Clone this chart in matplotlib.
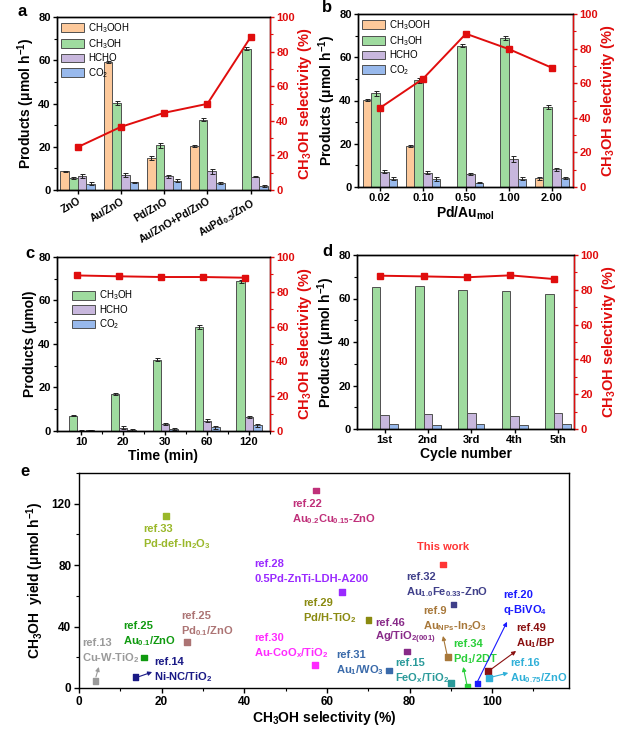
import numpy as np
import matplotlib
matplotlib.use('Agg')
import matplotlib.pyplot as plt
from matplotlib.ticker import MultipleLocator

plt.rcParams['font.family'] = ['Liberation Sans', 'DejaVu Sans']
plt.rcParams['font.weight'] = 'bold'
plt.rcParams['mathtext.default'] = 'regular'
plt.rcParams['axes.linewidth'] = 1.0

# ---- panel a : catalysts
a_labels = ['ZnO', 'Au/ZnO', 'Pd/ZnO', 'Au/ZnO+Pd/ZnO', 'AuPd$_{0.5}$/ZnO']
a_ch3ooh = [8.6, 59.1, 14.7, 20.2, 0]
a_ch3ooh_err = [0.4, 0.4, 0.8, 0.4, 0]
a_ch3oh = [5.7, 40.1, 20.7, 32.6, 65.4]
a_ch3oh_err = [0.4, 1.0, 1.2, 0.9, 0.6]
a_hcho = [6.5, 6.8, 6.4, 8.6, 6.2]
a_hcho_err = [0.8, 1.0, 0.7, 1.0, 0.4]
a_co2 = [2.9, 3.6, 4.3, 3.4, 1.9]
a_co2_err = [0.8, 0.3, 0.8, 0.5, 0.3]
a_sel = [24.8, 36.5, 44.6, 49.8, 88.3]

# ---- panel b : Pd/Au ratio
b_labels = ['0.02', '0.10', '0.50', '1.00', '2.00']
b_ch3ooh = [40.1, 18.8, 0, 0, 4.0]
b_ch3ooh_err = [0.4, 0.5, 0, 0, 0.6]
b_ch3oh = [43.3, 49.4, 65.3, 68.9, 37.1]
b_ch3oh_err = [1.3, 1.2, 0.6, 0.7, 1.0]
b_hcho = [7.0, 6.7, 6.2, 13.0, 8.2]
b_hcho_err = [0.7, 0.6, 0.5, 1.3, 0.7]
b_co2 = [3.9, 3.6, 1.9, 3.9, 4.0]
b_co2_err = [0.8, 0.8, 0.2, 0.8, 0.4]
b_sel = [45.7, 62.5, 88.6, 79.7, 68.9]

# ---- panel c : time
c_labels = ['10', '20', '30', '60', '120']
c_ch3oh = [7.1, 17.1, 32.7, 47.8, 68.8]
c_ch3oh_err = [0.4, 0.6, 0.7, 0.8, 0.7]
c_hcho = [0.2, 1.5, 3.1, 4.8, 6.3]
c_hcho_err = [0.2, 0.6, 0.4, 0.8, 0.4]
c_co2 = [0.3, 0.6, 1.0, 1.7, 2.6]
c_co2_err = [0.2, 0.5, 0.6, 0.7, 0.6]
c_sel = [89.4, 88.9, 88.5, 88.5, 88.1]

# ---- panel d : cycles
d_labels = ['1st', '2nd', '3rd', '4th', '5th']
d_ch3oh = [65.2, 65.6, 63.9, 63.3, 62.2]
d_hcho = [6.3, 6.7, 7.2, 6.1, 7.2]
d_co2 = [2.4, 1.9, 2.4, 1.9, 2.4]
d_sel = [88.1, 87.7, 87.2, 88.3, 86.2]

# ---- panel e : literature comparison
e_ref = ['ref.13', 'ref.25', 'ref.14', 'ref.33', 'ref.25', 'ref.22', 'ref.28', 'ref.29',
         'ref.30', 'ref.31', 'ref.46', 'ref.15', 'ref.32', 'ref.9', 'This work', 'ref.34',
         'ref.20', 'ref.49', 'ref.16']
e_cat = ['Cu-W-TiO$_2$', 'Au$_{0.1}$/ZnO', 'Ni-NC/TiO$_2$', 'Pd-def-In$_2$O$_3$', 'Pd$_{0.1}$/ZnO',
         'Au$_{0.2}$Cu$_{0.15}$-ZnO', '0.5Pd-ZnTi-LDH-A200', 'Pd/H-TiO$_2$', 'Au-CoO$_x$/TiO$_2$',
         'Au$_1$/WO$_3$', 'Ag/TiO$_{2(001)}$', 'FeO$_x$/TiO$_2$', 'Au$_{1.0}$Fe$_{0.33}$-ZnO',
         'Au$_{NPs}$-In$_2$O$_3$', '', 'Pd$_1$/2DT', 'q-BiVO$_4$', 'Au$_1$/BP', 'Au$_{0.75}$/ZnO']
e_sel = [4.0, 15.7, 13.7, 21.1, 26.2, 57.3, 63.7, 70.1, 57.1, 75.0, 79.4, 90.1, 90.6, 89.3,
         88.1, 94.0, 96.5, 99.0, 99.2]
e_yield = [4.6, 20.0, 7.0, 112.0, 30.0, 128.5, 62.6, 44.4, 14.8, 11.3, 23.7, 3.3, 54.4, 20.2,
           80.3, 0.9, 3.0, 10.9, 6.5]
e_colors = ['#9a9a9a', '#109a10', '#1a1a86', '#9ab82a', '#ac7474', '#c0307a', '#9a2aff',
            '#8a8a10', '#ff2aff', '#3a6aaa', '#882a88', '#2a9a9a', '#40408a', '#a8783a',
            '#ff3535', '#2acf3a', '#1a1aff', '#8a1010', '#30b0d8']

red = '#e00d0d'
col_ooh = '#fdc99b'
col_oh = '#9fdb9f'
col_hcho = '#c8b7dd'
col_co2 = '#98b9ec'
names = ['CH$_3$OOH', 'CH$_3$OH', 'HCHO', 'CO$_2$']

W, H = 618, 734
fig = plt.figure(figsize=(W / 100, H / 100), dpi=100)


def box(x0, y0, x1, y1):
    return [x0 / W, 1 - y1 / H, (x1 - x0) / W, (y1 - y0) / H]


def bar_panel(ax, labels, series, errs, cols, labs, sel, xlim, sel_shift, ylabel):
    x = np.arange(len(labels))
    n = len(series)
    w = 0.2
    for k in range(n):
        off = (k - (n - 1) / 2) * w
        kw = dict(color=cols[k], edgecolor='#505050', linewidth=0.7, label=labs[k], zorder=2)
        if errs is not None:
            kw.update(yerr=errs[k], capsize=1.8,
                      error_kw=dict(elinewidth=0.7, capthick=0.7, ecolor='#222222'))
        ax.bar(x + off, series[k], w, **kw)
    ax.set_xlim(xlim)
    ax.set_ylim(0, 80)
    ax.set_xticks(x)
    ax.yaxis.set_major_locator(MultipleLocator(20))
    ax.yaxis.set_minor_locator(MultipleLocator(10))
    ax.tick_params(axis='both', which='major', direction='out', length=3, width=1,
                   labelsize=8, pad=1.5)
    ax.tick_params(axis='y', which='minor', direction='out', length=2, width=0.8)
    ax.tick_params(axis='x', which='minor', bottom=False)
    ax.set_ylabel(ylabel, fontsize=10, fontweight='bold', labelpad=1)
    ax2 = ax.twinx()
    ax2.plot(x + sel_shift, sel, color=red, marker='s', ms=4, lw=1.4, zorder=3)
    ax2.set_ylim(0, 100)
    ax2.yaxis.set_major_locator(MultipleLocator(20))
    ax2.yaxis.set_minor_locator(MultipleLocator(10))
    ax2.tick_params(axis='y', which='major', direction='out', length=3, width=1,
                    colors=red, labelsize=8, pad=1.5)
    ax2.tick_params(axis='y', which='minor', direction='out', length=2, width=0.8, colors=red)
    ax2.spines['right'].set_color(red)
    ax2.set_ylabel('CH$_3$OH selectivity (%)', color=red, fontsize=10.5, fontweight='bold',
                   labelpad=1)
    return ax2


leg_kw = dict(frameon=False, prop={'size': 7, 'weight': 'normal'}, handlelength=2.4,
              handleheight=1.0, labelspacing=0.25, handletextpad=0.4, borderpad=0.2)

# a
ax_a = fig.add_axes(box(57, 17, 270, 190))
bar_panel(ax_a, a_labels, [a_ch3ooh, a_ch3oh, a_hcho, a_co2],
          [a_ch3ooh_err, a_ch3oh_err, a_hcho_err, a_co2_err],
          [col_ooh, col_oh, col_hcho, col_co2], names, a_sel, (-0.48, 4.45), 0,
          'Products (μmol h$^{-1}$)')
ax_a.set_xticklabels(a_labels, rotation=30, ha='right', rotation_mode='anchor', fontsize=7.5)
ax_a.legend(loc='upper left', borderaxespad=0.2, **leg_kw)

# b
ax_b = fig.add_axes(box(358, 14, 573, 187))
bar_panel(ax_b, b_labels, [b_ch3ooh, b_ch3oh, b_hcho, b_co2],
          [b_ch3ooh_err, b_ch3oh_err, b_hcho_err, b_co2_err],
          [col_ooh, col_oh, col_hcho, col_co2], names, b_sel, (-0.51, 4.49), 0,
          'Products (μmol h$^{-1}$)')
ax_b.set_xticklabels(b_labels)
ax_b.set_xlabel('Pd/Au$_{mol}$', fontsize=10, fontweight='bold', labelpad=1)
ax_b.legend(loc='upper left', borderaxespad=0.2, **leg_kw)

# c
ax_c = fig.add_axes(box(57, 257, 270, 431))
bar_panel(ax_c, c_labels, [c_ch3oh, c_hcho, c_co2], [c_ch3oh_err, c_hcho_err, c_co2_err],
          [col_oh, col_hcho, col_co2], names[1:], c_sel, (-0.58, 4.35), -0.1,
          'Products (μmol)')
ax_c.set_xticklabels(c_labels)
ax_c.set_xticks(np.arange(5) + 0.5, minor=True)
ax_c.tick_params(axis='x', which='minor', bottom=True, direction='out', length=2, width=0.8)
ax_c.set_xlabel('Time (min)', fontsize=10, fontweight='bold', labelpad=1)
ax_c.legend(loc='upper left', bbox_to_anchor=(0.06, 0.83), borderaxespad=0, **leg_kw)

# d
ax_d = fig.add_axes(box(357, 255, 574, 429))
bar_panel(ax_d, d_labels, [d_ch3oh, d_hcho, d_co2], None,
          [col_oh, col_hcho, col_co2], names[1:], d_sel, (-0.64, 4.37), -0.1,
          'Products (μmol h$^{-1}$)')
ax_d.set_xticklabels(d_labels)
ax_d.set_xlabel('Cycle number', fontsize=10, fontweight='bold', labelpad=1)

# e
ax_e = fig.add_axes(box(79, 473, 569, 688))
ax_e.scatter(e_sel, e_yield, c=e_colors, marker='s', s=16, zorder=3)
ax_e.set_xlim(0, 118.6)
ax_e.set_ylim(0, 140)
ax_e.xaxis.set_major_locator(MultipleLocator(20))
ax_e.xaxis.set_minor_locator(MultipleLocator(10))
ax_e.yaxis.set_major_locator(MultipleLocator(40))
ax_e.yaxis.set_minor_locator(MultipleLocator(20))
ax_e.tick_params(which='major', direction='out', length=3.5, width=1, labelsize=8.5, pad=2)
ax_e.tick_params(which='minor', direction='out', length=2, width=0.8)
ax_e.set_xlabel('CH$_3$OH selectivity (%)', fontsize=10, fontweight='bold', labelpad=1)
ax_e.set_ylabel('CH$_3$OH  yield (μmol h$^{-1}$)', fontsize=10, fontweight='bold', labelpad=4)

# label anchor (left, first line) for each point, in data units
lab_pos = [(0.7, 29.4), (10.7, 40.5), (18.2, 17.0), (15.5, 103.8), (24.7, 47.0),
           (51.6, 120.1), (42.4, 80.9), (54.2, 55.5), (42.4, 32.6), (62.2, 21.5),
           (71.7, 42.4), (76.5, 16.3), (79.2, 72.4), (83.3, 50.2), (81.8, 92.0),
           (90.6, 28.7), (102.7, 60.7), (105.8, 39.2), (104.4, 16.3)]
for i in range(len(e_ref)):
    lx, ly = lab_pos[i]
    ax_e.text(lx, ly, e_ref[i], color=e_colors[i], fontsize=8, fontweight='bold',
              ha='left', va='center')
    if e_cat[i]:
        ax_e.text(lx, ly - 9.8, e_cat[i], color=e_colors[i], fontsize=8, fontweight='bold',
                  ha='left', va='center')

# arrows: (point index, tail, head)
arrows = [(0, (4.1, 7.2), (4.8, 13.7)), (2, (14.3, 7.2), (17.7, 10.4)),
          (13, (89.1, 21.5), (88.1, 33.9)), (15, (93.9, 2.0), (93.0, 13.7)),
          (16, (96.4, 3.9), (103.6, 43.1)), (17, (99.5, 11.7), (105.8, 24.1)),
          (18, (100.0, 7.2), (103.9, 9.8))]
for i, t, h in arrows:
    ax_e.annotate('', xy=h, xytext=t,
                  arrowprops=dict(arrowstyle='-|>', color=e_colors[i], lw=0.8,
                                  mutation_scale=6, shrinkA=0, shrinkB=0))

for lab, px, py in [('a', 18, 11), ('b', 322, 8), ('c', 25, 253), ('d', 322, 252),
                    ('e', 20, 471)]:
    fig.text(px / W, 1 - py / H, lab, fontsize=12, fontweight='bold', va='center')

fig.savefig('out.png', dpi=100)
